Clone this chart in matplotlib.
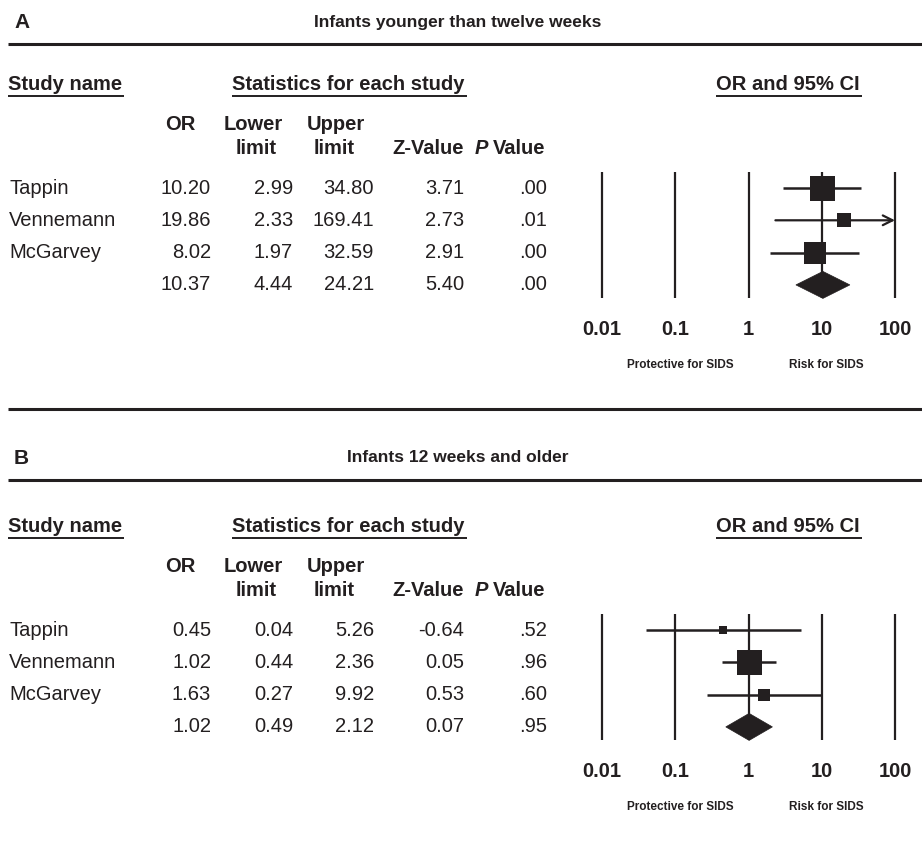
import matplotlib
matplotlib.use("Agg")
import matplotlib.pyplot as plt
from matplotlib.patches import Polygon
from matplotlib.ticker import NullLocator
import numpy as np

plt.rcParams['font.family'] = ['Liberation Sans', 'DejaVu Sans']

# ---------------- data ----------------
studies = ["Tappin", "Vennemann", "McGarvey"]

title_a = "Infants younger than twelve weeks"
or_a = [10.20, 19.86, 8.02]
lo_a = [2.99, 2.33, 1.97]
hi_a = [34.80, 169.41, 32.59]
z_a = [3.71, 2.73, 2.91]
p_a = [0.00, 0.01, 0.00]
weight_a = [48, 15, 37]
sum_a = [10.37, 4.44, 24.21, 5.40, 0.00]

title_b = "Infants 12 weeks and older"
or_b = [0.45, 1.02, 1.63]
lo_b = [0.04, 0.44, 0.27]
hi_b = [5.26, 2.36, 9.92]
z_b = [-0.64, 0.05, 0.53]
p_b = [0.52, 0.96, 0.60]
weight_b = [8, 77, 15]
sum_b = [1.02, 0.49, 2.12, 0.07, 0.95]

axis_ticks = [0.01, 0.1, 1, 10, 100]
axis_labels = ["0.01", "0.1", "1", "10", "100"]

# ---------------- figure ----------------
W, H = 922, 848
fig = plt.figure(figsize=(W / 100, H / 100), dpi=100)
bg = fig.add_axes([0, 0, 1, 1])
bg.set_xlim(0, W)
bg.set_ylim(H, 0)
bg.axis('off')

INK = '#231f20'
FS = 14.5


def fmt_p(p):
    return f"{p:.2f}".lstrip('0')


def px_rect(x0, y0, x1, y1):
    return [x0 / W, 1 - y1 / H, (x1 - x0) / W, (y1 - y0) / H]


def underline(t, y):
    fig.canvas.draw()
    bb = t.get_window_extent()
    inv = bg.transData.inverted()
    (xa, _), (xb, _) = inv.transform([[bb.x0, 0], [bb.x1, 0]])
    bg.plot([xa, xb + 2], [y, y], color=INK, lw=1.4, solid_capstyle='butt')


def panel(y_off, letter, title, ors, los, his, zs, ps, weights, summ, title_y):
    # title band
    bg.text(14, title_y, letter, fontsize=15, fontweight='bold', color=INK,
            ha='left', va='center')
    bg.text(458, title_y, title, fontsize=12.5, fontweight='bold', color=INK,
            ha='center', va='center')
    bg.plot([8, W], [title_y + 22, title_y + 22], color=INK, lw=2.2,
            solid_capstyle='butt')

    # section headers
    hy = 85 + y_off
    t1 = bg.text(8, hy, "Study name", fontsize=FS, fontweight='bold', color=INK,
                 ha='left', va='center')
    t2 = bg.text(232, hy, "Statistics for each study", fontsize=FS,
                 fontweight='bold', color=INK, ha='left', va='center')
    t3 = bg.text(716, hy, "OR and 95% CI", fontsize=FS, fontweight='bold',
                 color=INK, ha='left', va='center')
    for t in (t1, t2, t3):
        underline(t, hy + 11)

    # column headers
    r1 = 125 + y_off
    r2 = 149 + y_off
    bg.text(180, r1, "OR", fontsize=FS, fontweight='bold', color=INK, ha='center', va='center')
    bg.text(253, r1, "Lower", fontsize=FS, fontweight='bold', color=INK, ha='center', va='center')
    bg.text(336, r1, "Upper", fontsize=FS, fontweight='bold', color=INK, ha='center', va='center')
    bg.text(256, r2, "limit", fontsize=FS, fontweight='bold', color=INK, ha='center', va='center')
    bg.text(334, r2, "limit", fontsize=FS, fontweight='bold', color=INK, ha='center', va='center')
    bg.text(464, r2, "Z-Value", fontsize=FS, fontweight='bold', color=INK, ha='right', va='center')
    tv = bg.text(545, r2, "Value", fontsize=FS, fontweight='bold', color=INK, ha='right', va='center')
    fig.canvas.draw()
    bb = tv.get_window_extent()
    xl = bg.transData.inverted().transform([[bb.x0, 0]])[0][0]
    bg.text(xl - 4, r2, "P", fontsize=FS, fontweight='bold', fontstyle='italic',
            color=INK, ha='right', va='center')

    # table rows
    row0 = 188 + y_off
    dy = 32.3
    cols_x = [211, 293, 374, 464, 547]
    rows = []
    for i, name in enumerate(studies):
        rows.append((name, ors[i], los[i], his[i], zs[i], ps[i]))
    rows.append(("", summ[0], summ[1], summ[2], summ[3], summ[4]))
    for i, (name, o, l, h, z, p) in enumerate(rows):
        y = row0 + i * dy
        bg.text(9, y, name, fontsize=FS, color=INK, ha='left', va='center')
        vals = [f"{o:.2f}", f"{l:.2f}", f"{h:.2f}", f"{z:.2f}", fmt_p(p)]
        for xv, s in zip(cols_x, vals):
            bg.text(xv, y, s, fontsize=FS, color=INK, ha='right', va='center')

    # forest plot axes (log scale)
    ax_x0, ax_x1 = 575, 920
    ax_y0, ax_y1 = row0 - 23, row0 + 3 * dy + 20
    ax = fig.add_axes(px_rect(ax_x0, ax_y0, ax_x1, ax_y1))
    dec = 73.25
    ax.set_xscale('log')
    ax.set_xlim(10 ** (-2 - (602 - ax_x0) / dec), 10 ** (2 + (ax_x1 - 895) / dec))
    ax.set_ylim(3 + (ax_y1 - (row0 + 3 * dy)) / dy, -(row0 - ax_y0) / dy)
    ax.patch.set_alpha(0)
    for s in ax.spines.values():
        s.set_visible(False)
    ax.vlines(axis_ticks, -0.5, 3.42, color=INK, lw=1.6)

    xmax = axis_ticks[-1]
    wmax = max(weights)
    for i in range(len(studies)):
        if his[i] > xmax:
            ax.annotate("", xy=(xmax, i), xytext=(los[i], i),
                        arrowprops=dict(arrowstyle='->,head_length=0.7,head_width=0.35',
                                        color=INK, lw=1.6, shrinkA=0, shrinkB=0))
        else:
            ax.plot([los[i], his[i]], [i, i], color=INK, lw=1.8, solid_capstyle='butt')
        side_px = 25 * np.sqrt(weights[i] / wmax)
        ax.plot([ors[i]], [i], marker='s', markersize=side_px * 0.72,
                color=INK, markeredgewidth=0, linestyle='none', zorder=3)

    hgt = 13.5 / dy
    yi = 3
    dia = Polygon([[summ[1], yi], [summ[0], yi - hgt], [summ[2], yi], [summ[0], yi + hgt]],
                  closed=True, facecolor=INK, edgecolor=INK, lw=0.5, zorder=3)
    ax.add_patch(dia)

    ax.set_xticks(axis_ticks)
    ax.set_xticklabels(axis_labels, fontsize=FS, fontweight='bold', color=INK)
    ax.xaxis.set_minor_locator(NullLocator())
    ax.tick_params(axis='x', length=0, pad=11)
    ax.set_yticks([])

    # direction labels
    ly = 365 + y_off
    bg.text(680, ly, "Protective for SIDS", fontsize=8.5, fontweight='bold',
            color=INK, ha='center', va='center')
    bg.text(826, ly, "Risk for SIDS", fontsize=8.5, fontweight='bold',
            color=INK, ha='center', va='center')


panel(0, "A", title_a, or_a, lo_a, hi_a, z_a, p_a, weight_a, sum_a, 22)
bg.plot([8, W], [409, 409], color=INK, lw=2.2, solid_capstyle='butt')
panel(442, "B", title_b, or_b, lo_b, hi_b, z_b, p_b, weight_b, sum_b, 458)

fig.savefig("out.png", dpi=100)
